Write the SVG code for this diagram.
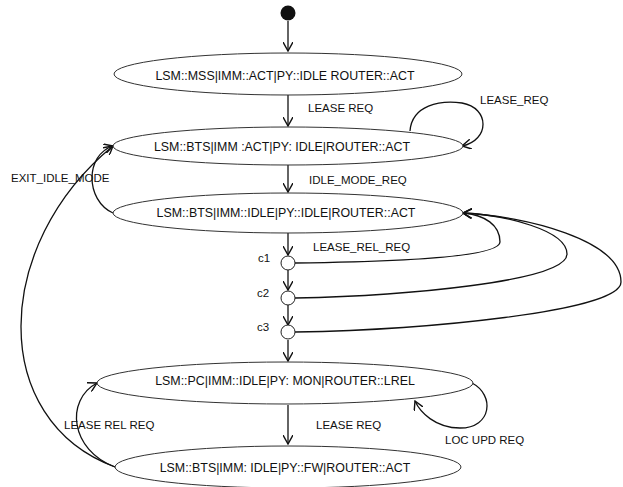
<svg xmlns="http://www.w3.org/2000/svg" width="623" height="487" viewBox="0 0 623 487">
<style>
.st{fill:#fff;stroke:#333;stroke-width:1}
.t{font-family:"Liberation Sans",Arial,sans-serif;font-size:12.4px;fill:#111;text-anchor:middle}
.l{font-family:"Liberation Sans",Arial,sans-serif;font-size:11.5px;fill:#111}
.c{fill:none;stroke:#111;stroke-width:1.3;marker-end:url(#ah)}
.ch{fill:#fff;stroke:#222;stroke-width:1}
</style>
<defs>
<marker id="ah" viewBox="0 0 10 10" refX="9" refY="5" markerWidth="10" markerHeight="10" markerUnits="userSpaceOnUse" orient="auto">
<path d="M0,0 L9,5 L0,10" fill="none" stroke="#111" stroke-width="1.4"/>
</marker>
</defs>
<g id="connectors">
<path class="c" d="M288,21 L288,51"/>
<path class="c" d="M288,95 L288,126"/>
<path class="c" d="M410,131 C412,105 440,100 462,103 C490,108 490,140 462,146"/>
<path class="c" d="M288,165 L288,192"/>
<path class="c" d="M113,213 C85,200 85,155 113,146"/>
<path class="c" d="M115,467 C-12,420 -8,245 113,146"/>
<path class="c" d="M288,233 L288,255"/>
<path class="c" d="M288,270 L288,290"/>
<path class="c" d="M288,305 L288,325"/>
<path class="c" d="M288,340 L288,361"/>
<path class="c" d="M295,263 C380,262 500,258 500,242 C500,225 485,215 463,213"/>
<path class="c" d="M295,298 C400,296 567,282 567,254 C567,230 505,215 463,213"/>
<path class="c" d="M295,332 C420,330 621,312 621,282 C621,240 525,216 463,213"/>
<path class="c" d="M288,405 L288,444"/>
<path class="c" d="M115,467 C70,450 65,400 97,383"/>
<path class="c" d="M472,383 C495,395 492,428 460,428 C435,428 420,412 415,401"/>
</g>
<g id="initial"><circle cx="288" cy="13" r="7.5" fill="#111"/></g>
<g id="s1"><ellipse class="st" cx="288" cy="74" rx="174" ry="21"/><text class="t" x="285" y="80">LSM::MSS|IMM::ACT|PY::IDLE ROUTER::ACT</text></g>
<g id="s2"><ellipse class="st" cx="288" cy="146" rx="175" ry="19"/><text class="t" x="282" y="151">LSM::BTS|IMM :ACT|PY: IDLE|ROUTER::ACT</text></g>
<g id="s3"><ellipse class="st" cx="288" cy="213" rx="175" ry="20"/><text class="t" x="286" y="217">LSM::BTS|IMM::IDLE|PY::IDLE|ROUTER::ACT</text></g>
<g id="s4"><ellipse class="st" cx="285" cy="383" rx="188" ry="21"/><text class="t" x="285" y="385">LSM::PC|IMM::IDLE|PY: MON|ROUTER::LREL</text></g>
<g id="s5"><ellipse class="st" cx="288" cy="467" rx="173" ry="21"/><text class="t" x="285" y="472">LSM::BTS|IMM: IDLE|PY::FW|ROUTER::ACT</text></g>
<g id="c1"><circle class="ch" cx="288" cy="263" r="7"/><text class="l" x="258" y="262">c1</text></g>
<g id="c2"><circle class="ch" cx="288" cy="298" r="7"/><text class="l" x="257" y="297">c2</text></g>
<g id="c3"><circle class="ch" cx="288" cy="332" r="7"/><text class="l" x="257" y="331">c3</text></g>
<g id="labels">
<text class="l" x="308" y="112">LEASE REQ</text>
<text class="l" x="480" y="104">LEASE_REQ</text>
<text class="l" x="309" y="184">IDLE_MODE_REQ</text>
<text class="l" x="11" y="182">EXIT_IDLE_MODE</text>
<text class="l" x="313" y="251">LEASE_REL_REQ</text>
<text class="l" x="64" y="429">LEASE REL REQ</text>
<text class="l" x="316" y="429">LEASE REQ</text>
<text class="l" x="445" y="444">LOC UPD REQ</text>
</g>
</svg>
